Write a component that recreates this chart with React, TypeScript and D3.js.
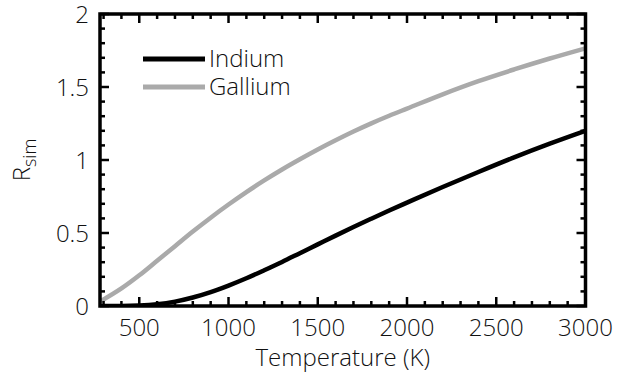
import React from "react";
import * as d3 from "d3";

// Simulated ratio vs temperature
const temperatures = [280, 400, 500, 600, 700, 800, 900, 1000, 1100, 1200, 1300, 1400, 1500, 1600, 1700, 1800, 1900, 2000, 2200, 2400, 2600, 2800, 3000];
const indium = [0.0, 0.0, 0.003, 0.012, 0.03, 0.058, 0.095, 0.14, 0.19, 0.245, 0.302, 0.362, 0.422, 0.482, 0.541, 0.598, 0.654, 0.708, 0.815, 0.918, 1.018, 1.112, 1.2];
const gallium = [0.03, 0.12, 0.21, 0.31, 0.41, 0.51, 0.605, 0.695, 0.78, 0.86, 0.935, 1.005, 1.072, 1.135, 1.195, 1.251, 1.303, 1.352, 1.45, 1.54, 1.62, 1.695, 1.765];
const xTicks = [500, 1000, 1500, 2000, 2500, 3000];
const yTicks = [0, 0.5, 1, 1.5, 2];
const seriesNames = ["Indium", "Gallium"];
const seriesColors = ["#000000", "#aaaaaa"];

const W = 617;
const H = 376;
const left = 100;
const right = 585.5;
const top = 14;
const bottom = 306;
const font = "'Open Sans', 'DejaVu Sans', sans-serif";

export default function App() {
  const x = d3.scaleLinear().domain([280, 3000]).range([left, right]);
  const y = d3.scaleLinear().domain([0, 2]).range([bottom, top]);

  const line = (vals: number[]) =>
    d3
      .line<number>()
      .x((_, i) => x(temperatures[i]))
      .y((v) => y(v))
      .curve(d3.curveMonotoneX)(vals) as string;

  const xMinor = d3.range(300, 3001, 100);
  const yMinor = d3.range(0, 2.0001, 0.1);

  return (
    <svg
      width={W}
      height={H}
      style={{ position: "absolute", left: 0, top: 0, background: "#fff" }}
    >
      <defs>
        <clipPath id="plotArea">
          <rect x={left} y={top} width={right - left} height={bottom - top} />
        </clipPath>
      </defs>

      <g clipPath="url(#plotArea)">
        <path d={line(gallium)} fill="none" stroke={seriesColors[1]} strokeWidth={4.5} />
        <path d={line(indium)} fill="none" stroke={seriesColors[0]} strokeWidth={4.5} />
      </g>

      {/* minor and major ticks on all four sides, pointing inward */}
      <g stroke="#000" strokeWidth={2.5}>
        {xMinor.map((t) => {
          const major = t % 500 === 0;
          const len = major ? 9 : 5;
          return (
            <g key={"x" + t}>
              <line x1={x(t)} x2={x(t)} y1={bottom} y2={bottom - len} />
              <line x1={x(t)} x2={x(t)} y1={top} y2={top + len} />
            </g>
          );
        })}
        {yMinor.map((t, i) => {
          const major = i % 5 === 0;
          const len = major ? 9 : 5;
          return (
            <g key={"y" + i}>
              <line x1={left} x2={left + len} y1={y(t)} y2={y(t)} />
              <line x1={right} x2={right - len} y1={y(t)} y2={y(t)} />
            </g>
          );
        })}
      </g>

      <rect
        x={left}
        y={top}
        width={right - left}
        height={bottom - top}
        fill="none"
        stroke="#000"
        strokeWidth={3.5}
      />

      {/* tick labels */}
      <g fontFamily={font} fontSize={24} fontWeight={300} fill="#111">
        {xTicks.map((t) => (
          <text key={t} x={x(t)} y={bottom + 30} textAnchor="middle">
            {t}
          </text>
        ))}
        {yTicks.map((t) => (
          <text key={t} x={left - 11} y={y(t) + 9} textAnchor="end">
            {t}
          </text>
        ))}
      </g>

      {/* axis titles */}
      <text
        x={(left + right) / 2}
        y={366}
        textAnchor="middle"
        fontFamily={font}
        fontSize={24}
        fontWeight={300}
        fill="#111"
      >
        Temperature (K)
      </text>
      <text
        transform={`translate(30, ${(top + bottom) / 2}) rotate(-90)`}
        textAnchor="middle"
        fontFamily={font}
        fontSize={24}
        fontWeight={300}
        fill="#111"
      >
        R<tspan fontSize={18} dy={6}>sim</tspan>
      </text>

      {/* legend */}
      <g fontFamily={font} fontSize={24} fontWeight={300} fill="#111">
        {seriesNames.map((name, i) => (
          <g key={name}>
            <line
              x1={143}
              x2={205}
              y1={59 + i * 28}
              y2={59 + i * 28}
              stroke={seriesColors[i]}
              strokeWidth={5}
            />
            <text x={209} y={59 + i * 28 + 8}>
              {name}
            </text>
          </g>
        ))}
      </g>
    </svg>
  );
}
